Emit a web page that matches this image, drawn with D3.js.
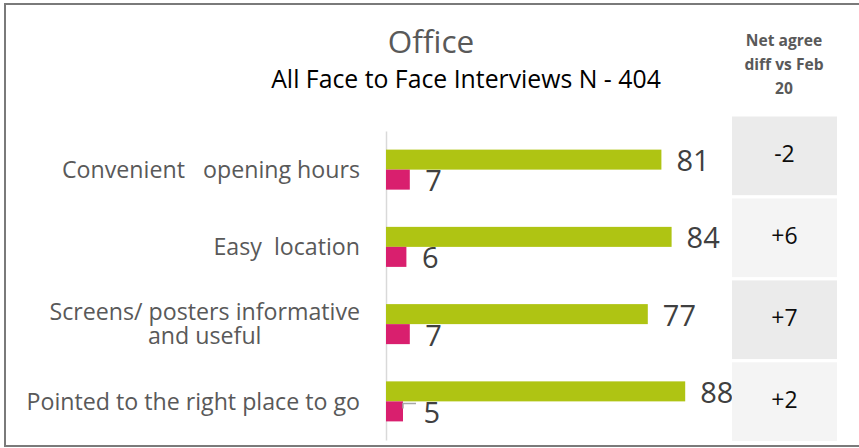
<!DOCTYPE html>
<html>
<head>
<meta charset="utf-8">
<script src="https://cdn.jsdelivr.net/npm/d3@7"></script>
<style>
  html, body { margin: 0; padding: 0; background: #ffffff; }
  svg { display: block; }
  text { font-family: "Open Sans", Lato, sans-serif; white-space: pre; }
</style>
</head>
<body>
<svg id="chart" width="859" height="448"></svg>
<script>
// ---- data ----
const categories = [
  ["Convenient   opening hours"],
  ["Easy  location"],
  ["Screens/ posters informative", "and useful"],
  ["Pointed to the right place to go"]
];
const agreeValues = [81, 84, 77, 88];
const disagreeValues = [7, 6, 7, 5];
const netDiffLabels = ["-2", "+6", "+7", "+2"];
const headerLines = ["Net agree", "diff vs Feb", "20"];
const titleText = "Office";
const subtitleText = "All Face to Face Interviews N - 404";
const disagreeLabelNudge = [0, 0, 0, 5];

// ---- layout ----
const svg = d3.select("#chart");
const green = "#afc413", pink = "#d91f6e";

svg.append("rect")
  .attr("x", 5).attr("y", 4).attr("width", 870).attr("height", 442)
  .attr("fill", "none").attr("stroke", "#7a7a7a").attr("stroke-width", 2);

const x = d3.scaleLinear().domain([0, 100]).range([386, 726]);
const idx = d3.range(categories.length);
const y = d3.scaleBand().domain(idx).range([131, 440]).paddingInner(0.482).paddingOuter(0.241);
const ySub = d3.scaleBand().domain(["agree", "disagree"]).range([0, y.bandwidth()]);

// title
svg.append("text").attr("x", 431).attr("y", 53)
  .attr("text-anchor", "middle").attr("font-size", 31.5).attr("fill", "#595959")
  .text(titleText);
svg.append("text").attr("x", 466).attr("y", 88)
  .attr("text-anchor", "middle").attr("font-size", 24.8).attr("fill", "#000000")
  .text(subtitleText);

// axis line
const yAxis = d3.axisLeft(y).tickSize(0).tickFormat("");
const ax = svg.append("g").attr("transform", `translate(${x(0)},0)`).call(yAxis);
ax.select(".domain").attr("stroke", "#d9d9d9").attr("stroke-width", 1.5);

// bars
const groups = svg.append("g").selectAll("g").data(idx).join("g")
  .attr("transform", d => `translate(0,${y(d)})`);

groups.append("rect")
  .attr("x", x(0)).attr("y", ySub("agree"))
  .attr("width", d => x(agreeValues[d]) - x(0)).attr("height", ySub.bandwidth())
  .attr("fill", green);
groups.append("rect")
  .attr("x", x(0)).attr("y", ySub("disagree"))
  .attr("width", d => x(disagreeValues[d]) - x(0)).attr("height", ySub.bandwidth())
  .attr("fill", pink);

// value labels
const valFont = 29;
groups.append("text")
  .attr("x", d => x(agreeValues[d]) + 15)
  .attr("y", ySub("agree") + ySub.bandwidth() / 2 + 1)
  .attr("dy", "0.36em").attr("font-size", valFont).attr("fill", "#404040")
  .text(d => agreeValues[d]);
groups.append("text")
  .attr("x", d => x(disagreeValues[d]) + 15.5 + disagreeLabelNudge[d])
  .attr("y", ySub("disagree") + ySub.bandwidth() / 2 + 1)
  .attr("dy", "0.36em").attr("font-size", valFont).attr("fill", "#404040")
  .text(d => disagreeValues[d]);

// leader lines for nudged labels
groups.filter(d => disagreeLabelNudge[d] > 0).append("path")
  .attr("d", d => `M${x(disagreeValues[d])},${ySub("disagree") + 7}V${ySub("disagree") + 2}H${x(disagreeValues[d]) + 13}`)
  .attr("fill", "none").attr("stroke", "#a6a6a6").attr("stroke-width", 1.5);

// category labels
const lineH = 24;
groups.each(function(d) {
  const g = d3.select(this);
  const lines = categories[d];
  const cy = y.bandwidth() / 2;
  const t = g.append("text").attr("font-size", 23.2).attr("fill", "#595959").attr("text-anchor", "middle");
  const spans = t.selectAll("tspan").data(lines).join("tspan")
    .attr("y", (l, i) => cy + (i - (lines.length - 1) / 2) * lineH)
    .attr("dy", "0.36em")
    .text(l => l);
  let maxW = 0;
  spans.each(function() { maxW = Math.max(maxW, this.getComputedTextLength()); });
  spans.attr("x", 360 - maxW / 2);
});

// right table
const yt = d3.scaleBand().domain(idx).range([116.5, 441]).paddingInner(0.04);
const cellFill = ["#ebebeb", "#f4f4f4", "#ebebeb", "#f4f4f4"];
const cells = svg.append("g").selectAll("g").data(idx).join("g");
cells.append("rect")
  .attr("x", 732).attr("y", d => yt(d)).attr("width", 105).attr("height", yt.bandwidth())
  .attr("fill", (d, i) => cellFill[i]);
cells.append("text")
  .attr("x", 784.5).attr("y", d => yt(d) + yt.bandwidth() / 2 - 2)
  .attr("dy", "0.36em").attr("text-anchor", "middle").attr("font-size", 23).attr("fill", "#0d0d0d")
  .text(d => netDiffLabels[d]);

// header
svg.append("text").attr("text-anchor", "middle").attr("font-size", 15.6)
  .attr("font-weight", "bold").attr("fill", "#595959")
  .selectAll("tspan").data(headerLines).join("tspan")
  .attr("x", 784).attr("y", (l, i) => 46 + i * 24)
  .text(l => l);
</script>
</body>
</html>
